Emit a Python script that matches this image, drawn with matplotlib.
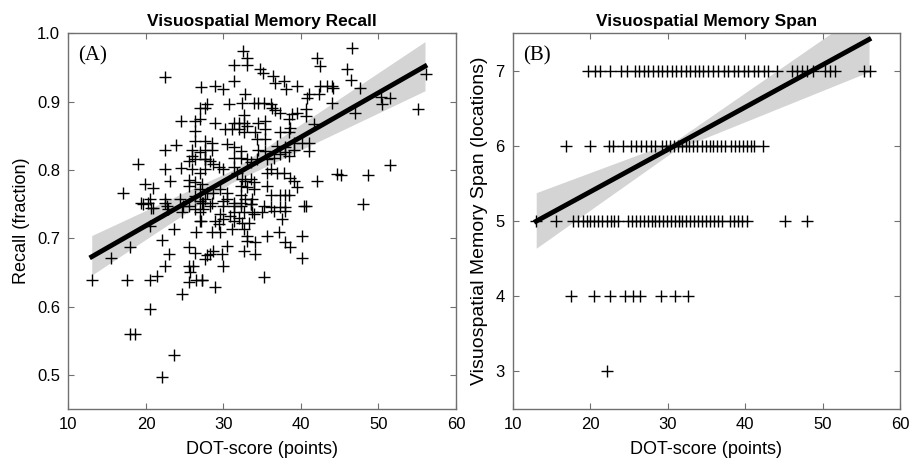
import numpy as np
import matplotlib
matplotlib.use("Agg")
import matplotlib.pyplot as plt

plt.rcParams['font.family'] = ['Liberation Sans', 'DejaVu Sans']

# ---- panel A: DOT-score vs recall ----
recall_x = [
    32.5, 46.6, 33.0, 42.1, 31.3, 33.0, 34.7, 35.1, 42.5, 46.0, 22.5, 31.4,
    36.4, 36.7, 37.8, 38.1, 46.5, 56.1, 27.1, 28.9, 30.0, 39.5, 42.5, 43.4,
    44.0, 47.6, 41.0, 40.8, 32.8, 42.3, 51.5, 50.3, 27.9, 30.7, 32.4, 33.9,
    34.5, 35.2, 36.1, 44.0, 44.1, 50.5, 27.0, 27.6, 36.3, 36.7, 37.3, 32.6,
    38.9, 39.5, 40.6, 40.6, 47.0, 55.1, 24.5, 26.3, 27.0, 28.9, 30.2, 31.3,
    32.0, 32.6, 33.0, 31.1, 32.0, 32.6, 34.5, 35.4, 34.1, 35.4, 38.4, 38.6,
    38.4, 41.7, 26.3, 26.3, 27.6, 28.5, 28.5, 30.4, 31.3, 32.2, 34.3, 35.4,
    37.3, 36.9, 38.0, 39.1, 39.1, 40.1, 41.0, 41.0, 34.5, 35.4, 22.5, 23.9,
    26.0, 26.0, 26.3, 27.6, 27.6, 27.0, 27.6, 28.3, 28.7, 29.4, 30.0, 31.3,
    32.2, 33.0, 33.5, 34.3, 35.6, 36.5, 37.3, 38.0, 38.4, 19.0, 22.5, 23.1,
    24.5, 25.5, 26.0, 27.0, 27.6, 31.3, 31.7, 32.4, 32.8, 33.5, 33.9, 35.6,
    36.1, 36.9, 37.8, 38.6, 39.1, 39.5, 42.1, 44.7, 51.5, 19.9, 20.9, 17.0,
    25.5, 26.3, 27.2, 25.5, 27.0, 27.9, 28.7, 29.6, 30.4, 30.4, 32.2, 33.0,
    33.9, 32.2, 32.8, 33.7, 35.6, 36.1, 37.3, 38.0, 38.4, 37.3, 38.0, 45.1,
    48.6, 19.6, 20.5, 20.9, 22.4, 22.7, 24.4, 25.5, 26.3, 27.0, 27.6, 28.3,
    30.0, 31.3, 32.2, 33.5, 35.2, 36.1, 40.4, 48.0, 19.4, 20.3, 20.7, 22.4,
    22.9, 24.6, 24.8, 26.3, 27.2, 27.0, 27.4, 27.4, 28.5, 30.0, 31.3, 32.2,
    33.5, 33.7, 40.6, 29.6, 28.9, 29.4, 30.0, 30.9, 31.3, 31.3, 32.0, 32.6,
    32.4, 32.6, 33.3, 33.9, 35.0, 36.5, 38.0, 37.6, 27.0, 28.5, 29.6, 31.1,
    20.5, 23.6, 27.1, 26.4, 37.1, 35.6, 33.0, 33.0, 34.1, 22.1, 17.9, 30.4,
    38.0, 38.6, 40.1, 15.5, 23.0, 25.5, 26.3, 28.7, 27.9, 28.3, 29.8, 34.1,
    32.6, 27.6, 40.1, 22.4, 21.4, 25.5, 26.1, 25.7, 30.0, 13.0, 17.5, 20.5,
    26.5, 27.2, 25.5, 27.2, 35.2, 24.6, 28.9, 20.5, 17.9, 18.6, 23.6, 22.1,
]
recall_y = [
    0.974, 0.979, 0.964, 0.964, 0.954, 0.954, 0.948, 0.942, 0.952, 0.948, 0.936, 0.931,
    0.937, 0.927, 0.930, 0.919, 0.932, 0.941, 0.921, 0.923, 0.918, 0.923, 0.923, 0.923,
    0.923, 0.920, 0.911, 0.906, 0.911, 0.911, 0.905, 0.907, 0.896, 0.896, 0.898, 0.898,
    0.898, 0.898, 0.896, 0.898, 0.920, 0.896, 0.891, 0.891, 0.891, 0.888, 0.884, 0.881,
    0.882, 0.884, 0.889, 0.879, 0.884, 0.889, 0.872, 0.872, 0.874, 0.869, 0.860, 0.869,
    0.869, 0.869, 0.864, 0.860, 0.860, 0.855, 0.869, 0.872, 0.855, 0.860, 0.874, 0.862,
    0.855, 0.867, 0.857, 0.842, 0.842, 0.840, 0.830, 0.838, 0.833, 0.828, 0.845, 0.845,
    0.855, 0.835, 0.833, 0.830, 0.840, 0.840, 0.840, 0.828, 0.830, 0.828, 0.830, 0.836,
    0.830, 0.821, 0.816, 0.830, 0.816, 0.826, 0.816, 0.813, 0.809, 0.804, 0.801, 0.818,
    0.818, 0.816, 0.811, 0.816, 0.816, 0.818, 0.823, 0.826, 0.821, 0.809, 0.801, 0.784,
    0.803, 0.813, 0.801, 0.796, 0.801, 0.804, 0.796, 0.787, 0.784, 0.787, 0.782, 0.796,
    0.801, 0.796, 0.796, 0.789, 0.784, 0.775, 0.784, 0.794, 0.808, 0.779, 0.773, 0.766,
    0.786, 0.782, 0.779, 0.777, 0.772, 0.767, 0.767, 0.772, 0.767, 0.758, 0.777, 0.775,
    0.772, 0.763, 0.758, 0.758, 0.777, 0.763, 0.763, 0.763, 0.763, 0.746, 0.746, 0.792,
    0.792, 0.750, 0.757, 0.745, 0.757, 0.748, 0.757, 0.748, 0.762, 0.755, 0.757, 0.748,
    0.748, 0.748, 0.748, 0.750, 0.748, 0.746, 0.748, 0.750, 0.752, 0.752, 0.745, 0.752,
    0.743, 0.738, 0.747, 0.743, 0.752, 0.738, 0.752, 0.743, 0.752, 0.755, 0.752, 0.752,
    0.750, 0.738, 0.747, 0.735, 0.726, 0.721, 0.728, 0.733, 0.738, 0.726, 0.730, 0.738,
    0.723, 0.713, 0.723, 0.735, 0.738, 0.740, 0.740, 0.728, 0.726, 0.709, 0.709, 0.713,
    0.718, 0.713, 0.726, 0.709, 0.709, 0.704, 0.704, 0.696, 0.694, 0.697, 0.687, 0.689,
    0.694, 0.687, 0.704, 0.671, 0.677, 0.687, 0.679, 0.682, 0.675, 0.677, 0.677, 0.677,
    0.682, 0.670, 0.671, 0.660, 0.645, 0.660, 0.660, 0.650, 0.660, 0.639, 0.639, 0.639,
    0.639, 0.639, 0.636, 0.639, 0.644, 0.618, 0.628, 0.597, 0.560, 0.560, 0.529, 0.497,
]

# ---- panel B: DOT-score vs span, grouped by span level ----
span7_x = [19.7, 20.6, 21.2, 22.5, 24.0, 24.7, 25.7, 26.3, 26.9, 27.5, 28.1, 28.7,
           29.3, 29.9, 30.5, 31.1, 31.7, 32.3, 32.9, 33.5, 34.0, 34.6, 35.2, 35.9,
           36.5, 37.2, 37.8, 38.5, 39.1, 39.8, 40.4, 41.1, 41.7, 42.4, 43.0, 44.1,
           46.0, 46.7, 47.3, 48.0, 48.8, 50.3, 51.0, 51.6, 55.4, 56.1]
span6_x = [16.9, 19.9, 22.4, 22.9, 24.2, 25.2, 25.9, 26.5, 27.2, 27.8, 28.3, 29.3,
           29.8, 30.3, 30.8, 31.3, 31.8, 32.3, 32.8, 33.3, 33.8, 34.4, 34.9, 35.4,
           35.9, 36.4, 36.9, 37.4, 38.2, 38.7, 39.2, 39.7, 40.2, 40.7, 41.2, 42.3]
span5_x = [13.0, 15.6, 17.8, 18.4, 19.0, 19.5, 20.0, 20.5, 21.0, 21.5, 22.1, 22.6,
           23.1, 23.6, 24.9, 25.4, 25.9, 26.4, 26.9, 27.4, 27.9, 28.4, 28.9, 29.4,
           29.9, 30.4, 30.9, 31.4, 31.9, 32.4, 32.9, 33.4, 33.9, 34.4, 34.9, 35.4,
           36.0, 36.5, 37.0, 38.1, 38.6, 39.1, 39.6, 40.2, 45.2, 48.0]
span4_x = [17.5, 20.5, 22.5, 24.5, 25.5, 26.4, 29.1, 30.9, 32.6]
span3_x = [22.1]

# fitted lines and 95% band: (x, fit, lower, upper)
fitA_x = [13.0, 31.0, 56.0]
fitA_y = [0.673, 0.790, 0.952]
fitA_lo = [0.646, 0.781, 0.916]
fitA_hi = [0.704, 0.799, 0.988]
fitB_x = [13.0, 31.0, 56.0]
fitB_y = [5.00, 6.01, 7.42]
fitB_lo = [4.64, 5.95, 6.99]
fitB_hi = [5.38, 6.07, 7.85]


def style_axes(ax):
    for s in ax.spines.values():
        s.set_color('#707070')
        s.set_linewidth(1.0)
    ax.tick_params(direction='in', top=True, right=True, length=4,
                   color='#707070', labelsize=12, pad=6)


fig = plt.figure(figsize=(9.12, 4.58), dpi=100)
axA = fig.add_axes([0.0751, 0.107, 0.4249, 0.820])
axB = fig.add_axes([0.5625, 0.107, 0.4243, 0.820])

# panel A
axA.fill_between(fitA_x, fitA_lo, fitA_hi, color='#d4d4d4', lw=0, zorder=1)
axA.plot(recall_x, recall_y, '+', color='black', ms=8, mew=1.0, zorder=2)
axA.plot(fitA_x, fitA_y, color='black', lw=3.5, zorder=3)
axA.set_xlim(10, 60)
axA.set_ylim(0.45, 1.0)
axA.set_xticks([10, 20, 30, 40, 50, 60])
axA.set_yticks([0.5, 0.6, 0.7, 0.8, 0.9, 1.0])
axA.set_yticklabels(['0.5', '0.6', '0.7', '0.8', '0.9', '1.0'])
axA.set_xlabel('DOT-score (points)', fontsize=13, labelpad=6)
axA.set_ylabel('Recall (fraction)', fontsize=13, labelpad=5)
axA.set_title('Visuospatial Memory Recall', fontsize=12.5, fontweight='bold', pad=5)
axA.text(0.025, 0.965, '(A)', transform=axA.transAxes, fontsize=15,
         family='Liberation Serif', va='top', ha='left')
style_axes(axA)

# panel B
axB.fill_between(fitB_x, fitB_lo, fitB_hi, color='#d4d4d4', lw=0, zorder=1)
levels = [(7, span7_x), (6, span6_x), (5, span5_x), (4, span4_x), (3, span3_x)]
for lvl, xs in levels:
    axB.plot(xs, [lvl] * len(xs), '+', color='black', ms=8, mew=1.0, zorder=2)
axB.plot(fitB_x, fitB_y, color='black', lw=3.5, zorder=3)
axB.set_xlim(10, 60)
axB.set_ylim(2.5, 7.5)
axB.set_xticks([10, 20, 30, 40, 50, 60])
axB.set_yticks([3, 4, 5, 6, 7])
axB.set_xlabel('DOT-score (points)', fontsize=13, labelpad=6)
axB.set_ylabel('Visuospatial Memory Span (locations)', fontsize=14, labelpad=5)
axB.set_title('Visuospatial Memory Span', fontsize=12.5, fontweight='bold', pad=5)
axB.text(0.025, 0.965, '(B)', transform=axB.transAxes, fontsize=15,
         family='Liberation Serif', va='top', ha='left')
style_axes(axB)

fig.savefig('out.png', dpi=100, facecolor='white')
